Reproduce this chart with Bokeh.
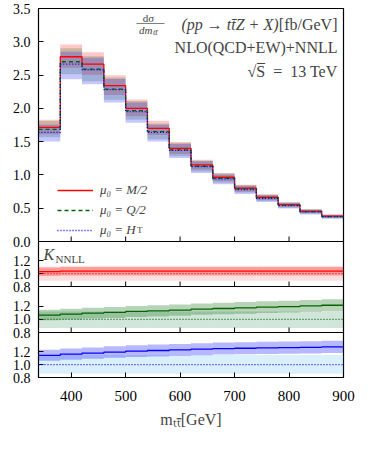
from bokeh.plotting import figure
from bokeh.models import Range1d, Span, Label, Legend, LegendItem, BoxAnnotation, FixedTicker
from bokeh.embed import file_html
from bokeh.resources import INLINE

# ---------------- data ----------------
edges = [340, 380, 420, 460, 500, 540, 580, 620, 660, 700, 740, 780, 820, 860, 900]

xs_M2 = [1.715, 2.775, 2.665, 2.34, 2.00, 1.70, 1.40, 1.15, 0.965, 0.80, 0.665, 0.555, 0.455, 0.38]
xs_Q2 = [1.685, 2.70, 2.59, 2.29, 1.965, 1.65, 1.375, 1.13, 0.95, 0.79, 0.655, 0.545, 0.45, 0.375]
xs_HT = [1.64, 2.665, 2.58, 2.28, 1.95, 1.64, 1.37, 1.125, 0.94, 0.78, 0.65, 0.54, 0.445, 0.375]

# relative scale uncertainties (up, down) of the NNLL predictions
unc_M2 = (0.067, 0.060)
unc_Q2 = (0.075, 0.070)
unc_HT = (0.070, 0.085)

K_M2 = [1.03, 1.04, 1.04, 1.04, 1.04, 1.04, 1.04, 1.04, 1.04, 1.04, 1.04, 1.04, 1.04, 1.04]
K_Q2 = [1.065, 1.08, 1.095, 1.105, 1.12, 1.13, 1.14, 1.155, 1.165, 1.175, 1.185, 1.195, 1.205, 1.215]
K_HT = [1.145, 1.165, 1.18, 1.195, 1.21, 1.22, 1.23, 1.24, 1.25, 1.255, 1.26, 1.265, 1.27, 1.275]

# NNLL band half-width (relative) and NLO band (lo, hi) in the ratio panels
kunc_M2 = 0.065
kunc_Q2 = 0.075
kunc_HT = 0.075
nlo_M2 = (0.89, 1.11)
nlo_Q2 = (0.87, 1.12)
nlo_HT = (0.86, 1.15)

main_yticks = [0.0, 0.5, 1.0, 1.5, 2.0, 2.5, 3.0, 3.5]
main_ylabels = ["0.0", "0.5", "1.0", "1.5", "2.0", "2.5", "3.0", "3.5"]
ratio_yticks = [0.8, 1.0, 1.2]
ratio_ylabels = ["0.8", "1.0", "1.2"]
xticks = [400, 500, 600, 700, 800, 900]

SERIF = "Liberation Serif"
RED, GREEN, BLUE = "#ff0000", "#006400", "#0000ff"

# ---------------- layout (pixels in the page) ----------------
FT, FB = 16, 385          # frame top / bottom
MB = 249                  # bottom of main panel
PANELS = [(249, 294), (294, 340), (340, 385)]
RLO, RHI = 0.8, 1.5       # ratio panel y range
MAIN_HI = 3.5
KPX = (MB - FT) / MAIN_HI  # px per unit in main panel


def py2y(py):
    return (MB - py) / KPX


def px2x(px):
    return 340 + (px - 46) * 560 / 305


def panel_range(pt, pb):
    s = (pb - pt) / (RHI - RLO)
    return Range1d(RLO - (FB - pb) / s, RHI + (pt - FT) / s)


def panel_to_main(v, pt, pb):
    s = (pb - pt) / (RHI - RLO)
    return py2y(pb - (v - RLO) * s)


p = figure(frame_width=305, frame_height=FB - FT, x_range=Range1d(340, 900),
           y_range=Range1d(py2y(FB), MAIN_HI),
           output_backend="svg", toolbar_location=None,
           min_border_left=38, min_border_right=15, min_border_top=8, min_border_bottom=56)
for i, (pt, pb) in enumerate(PANELS):
    p.extra_y_ranges["r%d" % i] = panel_range(pt, pb)

p.outline_line_color = "black"
p.outline_line_width = 1.2
p.xgrid.visible = False
p.ygrid.visible = False

# y axis ticks of all panels on a single axis
ticks, overrides = [], {}
for t, lab in zip(main_yticks, main_ylabels):
    ticks.append(t)
    overrides[t] = lab
for (pt, pb) in PANELS:
    for t, lab in zip(ratio_yticks, ratio_ylabels):
        y = panel_to_main(t, pt, pb)
        ticks.append(y)
        overrides[y] = lab

for ax in [p.xaxis[0], p.yaxis[0]]:
    ax.major_tick_in = 5
    ax.major_tick_out = 0
    ax.minor_tick_line_color = None
    ax.axis_line_color = "black"
    ax.major_tick_line_color = "black"
    ax.major_label_text_font = SERIF
    ax.major_label_text_color = "black"
p.yaxis[0].ticker = FixedTicker(ticks=ticks)
p.yaxis[0].major_label_overrides = overrides
p.yaxis[0].major_label_text_font_size = "14px"
p.yaxis[0].major_label_standoff = 8
p.xaxis[0].ticker = FixedTicker(ticks=xticks)
p.xaxis[0].major_label_text_font_size = "15px"
p.xaxis[0].major_label_standoff = 13
p.xaxis[0].axis_label = "m\u209c\u209c\u0304[GeV]"
p.xaxis[0].axis_label_text_font = SERIF
p.xaxis[0].axis_label_text_font_size = "16px"
p.xaxis[0].axis_label_text_font_style = "normal"
p.xaxis[0].axis_label_standoff = 7

lefts, rights = edges[:-1], edges[1:]

# ---------------- main panel ----------------
for vals, unc, col, a in [(xs_M2, unc_M2, RED, 0.22), (xs_Q2, unc_Q2, GREEN, 0.2), (xs_HT, unc_HT, BLUE, 0.22)]:
    p.quad(left=lefts, right=rights,
           bottom=[v * (1 - unc[1]) for v in vals], top=[v * (1 + unc[0]) for v in vals],
           fill_color=col, fill_alpha=a, line_color=None)

r_red = p.step(x=edges, y=xs_M2 + [xs_M2[-1]], mode="after", line_color=RED, line_width=1.3)
r_green = p.step(x=edges, y=xs_Q2 + [xs_Q2[-1]], mode="after", line_color=GREEN, line_width=1.3, line_dash="4 3")
r_blue = p.step(x=edges, y=xs_HT + [xs_HT[-1]], mode="after", line_color=BLUE, line_width=1.3, line_dash="1 2")

legend = Legend(items=[LegendItem(label="μ₀ = M/2", renderers=[r_red]),
                       LegendItem(label="μ₀ = Q/2", renderers=[r_green]),
                       LegendItem(label="μ₀ = H", renderers=[r_blue])],
                location=(19, 137), glyph_width=36, glyph_height=20, label_height=20,
                spacing=0, padding=5, margin=0, label_standoff=7,
                label_text_font=SERIF, label_text_font_size="13px", label_text_font_style="italic",
                background_fill_alpha=0, border_line_color=None)
p.add_layout(legend)
p.add_layout(Label(x=px2x(144.5), y=py2y(237), text="T", text_font=SERIF, text_font_size="9px",
                   text_baseline="middle", text_align="left"))

# title annotation
p.add_layout(Label(x=px2x(156), y=py2y(25), text="dσ", text_font=SERIF, text_font_size="11px",
                   text_align="center", text_baseline="middle"))
p.add_layout(BoxAnnotation(left=px2x(144), right=px2x(172), bottom=py2y(31.6), top=py2y(31),
                           fill_color="black", fill_alpha=1, line_color=None))
p.add_layout(Label(x=px2x(160), y=py2y(37.5), text="dm", text_font=SERIF, text_font_size="11px",
                   text_font_style="italic", text_align="right", text_baseline="middle"))
p.add_layout(Label(x=px2x(160.5), y=py2y(40), text="tt\u0304", text_font=SERIF, text_font_size="8px",
                   text_font_style="italic", text_align="left", text_baseline="middle"))
p.add_layout(Label(x=px2x(345), y=py2y(32), text="[fb/GeV]", text_font=SERIF, text_font_size="16px",
                   text_align="right", text_baseline="middle"))
p.add_layout(Label(x=px2x(286), y=py2y(32), text="(pp \u2192 tt\u0304Z + X)", text_font=SERIF,
                   text_font_size="16px", text_font_style="italic", text_align="right", text_baseline="middle"))
p.add_layout(Label(x=px2x(345), y=py2y(55), text="NLO(QCD+EW)+NNLL", text_font=SERIF,
                   text_font_size="16px", text_align="right", text_baseline="middle"))
p.add_layout(Label(x=px2x(345), y=py2y(79), text="\u221aS\u0305\u2002=\u200213 TeV", text_font=SERIF,
                   text_font_size="16px", text_align="right", text_baseline="middle"))

# ---------------- ratio panels ----------------
ratio_specs = [(K_M2, kunc_M2, nlo_M2, RED, RED, 0.3, 0.12),
               (K_Q2, kunc_Q2, nlo_Q2, GREEN, "#2e8b57", 0.28, 0.22),
               (K_HT, kunc_HT, nlo_HT, BLUE, "#87cefa", 0.28, 0.3)]
for i, (K, kunc, nlo, col, col_nlo, a_dark, a_light) in enumerate(ratio_specs):
    rn = "r%d" % i
    p.quad(left=lefts, right=rights, bottom=[nlo[0]] * len(K), top=[nlo[1]] * len(K),
           fill_color=col_nlo, fill_alpha=a_light, line_color=None, y_range_name=rn)
    p.quad(left=lefts, right=rights, bottom=[k * (1 - kunc) for k in K], top=[k * (1 + kunc) for k in K],
           fill_color=col, fill_alpha=a_dark, line_color=None, y_range_name=rn)
    p.step(x=edges, y=K + [K[-1]], mode="after", line_color=col, line_width=1.3, y_range_name=rn)
    p.add_layout(Span(location=1.0, dimension="width", line_color=col, line_dash="1 2",
                      line_width=1.2, y_range_name=rn))

# panel separators and inward x ticks at the bottom of the upper panels
for pb in [MB, PANELS[0][1], PANELS[1][1]]:
    p.add_layout(Span(location=py2y(pb), dimension="width", line_color="black", line_width=1.2))
    p.segment(x0=xticks, x1=xticks, y0=[py2y(pb)] * len(xticks), y1=[py2y(pb - 5)] * len(xticks),
              line_color="black", line_width=1)

# K_NNLL label
p.add_layout(Label(x=px2x(51), y=py2y(262), text="K", text_font=SERIF,
                   text_font_size="16px", text_font_style="italic", text_baseline="middle"))
p.add_layout(Label(x=px2x(63), y=py2y(266), text="NNLL", text_font=SERIF,
                   text_font_size="11px", text_baseline="middle"))

open("out.html", "w").write(file_html(p, INLINE))
